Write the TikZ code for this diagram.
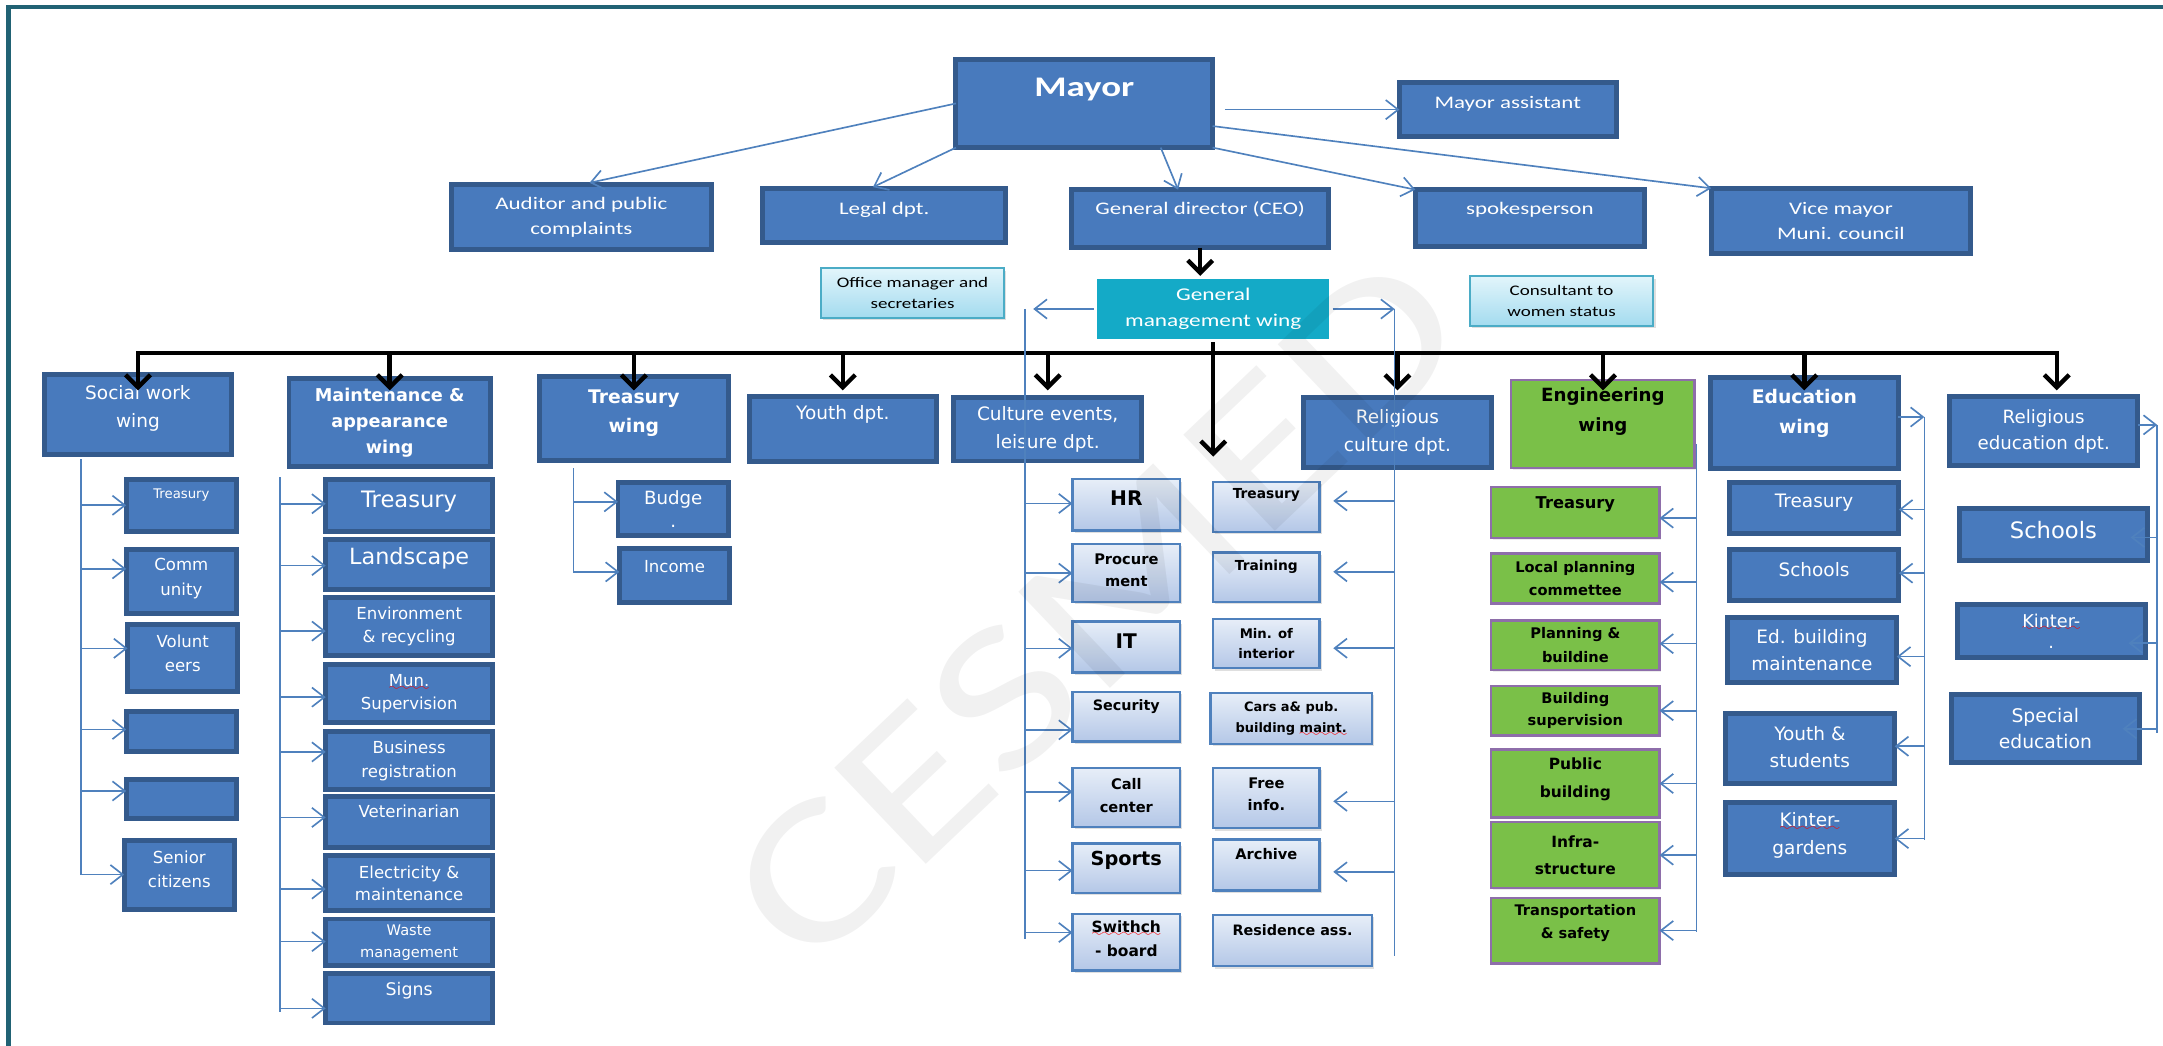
\documentclass[tikz,border=0pt]{standalone}
\usepackage{fontspec}
\setmainfont{DejaVu Sans}
\newfontfamily\calib[FakeStretch=1.3]{Carlito}
\usetikzlibrary{arrows.meta,shadows}

\definecolor{boxblue}{RGB}{72,122,189}
\definecolor{boxedge}{RGB}{52,90,140}
\definecolor{linkblue}{RGB}{79,129,189}
\definecolor{gmwteal}{RGB}{20,170,199}
\definecolor{cytop}{RGB}{226,245,251}
\definecolor{cybot}{RGB}{163,219,239}
\definecolor{cyedge}{RGB}{75,172,198}
\definecolor{lbtop}{RGB}{231,238,248}
\definecolor{lbbot}{RGB}{180,199,231}
\definecolor{engreen}{RGB}{122,192,72}
\definecolor{enpurple}{RGB}{142,110,170}
\definecolor{framecol}{RGB}{33,98,116}

% red spell-check wave under a word
\font\wavefnt=lasy6 at 4pt
\newcommand\sperr[2]{\setbox0\hbox{\textcolor{#1}{#2}}%
  \rlap{\textcolor{red}{\lower1.4pt\hbox to \wd0{\xleaders\hbox{\wavefnt\char58}\hfill}}}\box0}

\tikzset{
  box/.style={rectangle, align=center, inner sep=0pt, outer sep=0pt},
  dbox/.style={box, fill=boxblue, draw=boxedge, line width=1.8pt, text=white},
  lbox/.style={box, top color=lbtop, bottom color=lbbot, draw=linkblue, line width=0.8pt, text=black,
    drop shadow={opacity=0.25, shadow xshift=0.8pt, shadow yshift=-0.8pt}},
  cbox/.style={box, top color=cytop, bottom color=cybot, draw=cyedge, line width=0.8pt, text=black,
    drop shadow={opacity=0.25, shadow xshift=0.8pt, shadow yshift=-0.8pt}},
  gmwbox/.style={box, fill=gmwteal, draw=white, line width=2.5pt, text=white,
    drop shadow={opacity=0.2, shadow xshift=0.5pt, shadow yshift=-0.7pt}},
  gbox/.style={box, fill=engreen, draw=enpurple, line width=0.9pt, text=black,
    drop shadow={opacity=0.15, shadow xshift=0.6pt, shadow yshift=-0.6pt}},
  sz/.style 2 args={minimum width=(#1-3)*0.5pt, minimum height=(#2-3)*0.5pt},
  fs/.style 2 args={font=\fontsize{#1}{#2}\selectfont},
  fsb/.style 2 args={font=\fontsize{#1}{#2}\selectfont\bfseries},
  tfs/.style 2 args={font=\calib\fontsize{#1}{#2}\selectfont},
  tup/.style={text depth=#1pt},
  conn/.style={draw=linkblue, line width=0.6pt, -{Straight Barb[length=4.5pt,width=7pt]}},
  vline/.style={draw=linkblue, line width=0.6pt},
  blk/.style={line width=1.6pt, -{Straight Barb[length=4.5pt,width=9pt]}},
  frame/.style={draw=framecol, line width=1.7pt}
}

\begin{document}
\begin{tikzpicture}[x=0.5pt, y=-0.5pt]
\useasboundingbox (0,0) rectangle (1568,758);

% frame
\draw[frame] (6,758) -- (6,5) -- (1568,5);

% top level
\node[dbox, sz={189}{67}, font=\calib\fontsize{10.3}{12}\selectfont\bfseries, tup=12] (mayor) at (786,75) {Mayor};
\node[dbox, sz={160}{42}, tfs={6.4}{9}, tup=5.3] (assist) at (1093,79.5) {Mayor assistant};
\node[dbox, sz={192}{50}, tfs={6.4}{9}] (audit) at (421.5,157.3) {Auditor and public\\complaints};
\node[dbox, sz={179}{42}, tfs={6.4}{9}, tup=5.3] (legal) at (641,156) {Legal dpt.};
\node[dbox, sz={189}{45}, tfs={6.4}{9}, tup=7.6] (ceo) at (870,158.5) {General director (CEO)};
\node[dbox, sz={169}{44}, tfs={6.4}{9}, tup=7] (spokes) at (1109,158) {spokesperson};
\node[dbox, sz={191}{50}, tfs={6.4}{9}] (vice) at (1334.5,160) {Vice mayor\\Muni. council};
\node[cbox, sz={136}{39}, tfs={5.3}{7.5}] (office) at (661.5,212.5) {Office manager and\\secretaries};
\node[gmwbox, sz={176}{51}, tfs={6.5}{9.3}] (gmw) at (879.5,224) {General\\management wing};
\node[cbox, sz={136}{39}, tfs={5.3}{7.5}] (consult) at (1132,218.3) {Consultant to\\women status};

% wings
\node[dbox, sz={138}{61}, fs={6.7}{10}, tup=6] (social) at (100,300.5) {Social work\\wing};
\node[dbox, sz={149}{67}, fsb={6.4}{9.5}] (maint) at (282.5,306.5) {Maintenance \&\\appearance\\wing};
\node[dbox, sz={140}{64}, fsb={6.8}{10.5}, tup=5] (treaw) at (459.5,303.4) {Treasury\\wing};
\node[dbox, sz={139}{50}, fs={6.7}{10}, tup=11.8] (youth) at (611,311) {Youth dpt.};
\node[dbox, sz={139}{49}, fs={6.7}{10}] (culture) at (759.5,311.2) {Culture events,\\leisure dpt.};
\node[dbox, sz={139}{54}, fs={6.7}{10}] (relcult) at (1013,313.4) {Religious\\culture dpt.};
\node[gbox, sz={136}{67}, fsb={6.6}{10.8}, tup=10.6] (eng) at (1162,307.4) {Engineering\\wing};
\node[dbox, sz={139}{69}, fsb={6.8}{11}, tup=8.6] (edu) at (1308,306.6) {Education\\wing};
\node[dbox, sz={139}{53}, fs={6.6}{9.5}] (reledu) at (1481.5,312.7) {Religious\\education dpt.};

% social work wing
\node[dbox, sz={83}{41}, fs={4.8}{7}, tup=8.6] (sw1) at (131.5,366.3) {Treasury};
\node[dbox, sz={83}{49}, fs={6}{9}, tup=3.4] (sw2) at (131.5,421.4) {Comm\\unity};
\node[dbox, sz={83}{52}, fs={6}{8.8}, tup=3.6] (sw3) at (132.5,477) {Volunt\\eers};
\node[dbox, sz={83}{32}] (sw4) at (131.5,530.4) {};
\node[dbox, sz={83}{31}] (sw5) at (131.5,579.4) {};
\node[dbox, sz={83}{53}, fs={6}{8.8}, tup=4] (sw6) at (130,634) {Senior\\citizens};

% maintenance wing
\node[dbox, sz={124}{40.5}, fs={8.2}{10}, tup=4.4] (m1) at (296.6,366.2) {Treasury};
\node[dbox, sz={124}{39}, fs={8.1}{10}, tup=5.9] (m2) at (296.6,409) {Landscape};
\node[dbox, sz={124}{45}, fs={6}{8.3}] (m3) at (296.6,454.3) {Environment\\\& recycling};
\node[dbox, sz={124}{45}, fs={6}{8.5}] (m4) at (296.6,503) {\sperr{white}{Mun.}\\Supervision};
\node[dbox, sz={124}{45}, fs={6}{8.8}] (m5) at (296.6,551.5) {Business\\registration};
\node[dbox, sz={124}{40}, fs={6}{8}, tup=7.6] (m6) at (296.6,595.6) {Veterinarian};
\node[dbox, sz={124}{43}, fs={6}{8}] (m7) at (296.6,640.3) {Electricity \&\\maintenance};
\node[dbox, sz={124}{37}, fs={5.3}{7.8}] (m8) at (296.6,683.2) {Waste\\management};
\node[dbox, sz={124}{39}, fs={6.3}{8}, tup=7] (m9) at (296.6,723.6) {Signs};

% treasury wing
\node[dbox, sz={83}{41}, fs={6.6}{8.2}] (t1) at (488,369) {Budge\\.};
\node[dbox, sz={83}{42}, fs={6}{8}, tup=6.4] (t2) at (489,417) {Income};

% culture, left column
\node[lbox, sz={81}{40}, fsb={7.3}{9}, tup=5] (c1) at (816.5,366) {HR};
\node[lbox, sz={81}{45}, fsb={5.3}{8}, tup=2.5] (c2) at (816.5,415.5) {Procure\\ment};
\node[lbox, sz={81}{40}, fsb={7.3}{9}, tup=4] (c3) at (816.5,469) {IT};
\node[lbox, sz={81}{39}, fsb={5.2}{8}, tup=8.7] (c4) at (816.5,519.5) {Security};
\node[lbox, sz={81}{46}, fsb={5.3}{8.5}, tup=1.5] (c5) at (816.5,578) {Call\\center};
\node[lbox, sz={81}{39}, fsb={7}{9}, tup=7.1] (c6) at (816.5,629.5) {Sports};
\node[lbox, sz={81}{44}, fsb={5.6}{8.5}, tup=2.5] (c7) at (816.5,683) {\sperr{black}{Swithch}\\- board};

% culture, right column
\node[lbox, sz={80}{39}, fsb={5}{8}, tup=9.7] (r1) at (918,367.5) {Treasury};
\node[lbox, sz={80}{39}, fsb={5}{8}, tup=8.7] (r2) at (918,418.5) {Training};
\node[lbox, sz={80}{39}, fsb={4.8}{7.5}] (r3) at (918,466.5) {Min. of\\interior};
\node[lbox, sz={120}{40}, fsb={4.7}{7.6}] (r4) at (936,521) {Cars a\& pub.\\building \sperr{black}{maint.}};
\node[lbox, sz={80}{47}, fsb={5.3}{8}, tup=3] (r5) at (918,578.5) {Free\\info.};
\node[lbox, sz={80}{40}, fsb={5.3}{8}, tup=8] (r6) at (918,627) {Archive};
\node[lbox, sz={118}{40}, fsb={5.2}{8}, tup=8] (r7) at (937,682) {Residence ass.};

% engineering wing
\node[gbox, sz={125}{40}, fsb={5.9}{8}, tup=7.4] (e1) at (1142,371.4) {Treasury};
\node[gbox, sz={125}{39}, fsb={5.3}{8.1}] (e2) at (1142,419.4) {Local planning\\commettee};
\node[gbox, sz={125}{39}, fsb={5.3}{8.7}] (e3) at (1142,467.8) {Planning \&\\buildine};
\node[gbox, sz={125}{39}, fsb={5.3}{8.1}] (e4) at (1142,515.2) {Building\\supervision};
\node[gbox, sz={125}{52.5}, fsb={5.6}{9.9}, tup=4.3] (e5) at (1142,568) {Public\\building};
\node[gbox, sz={125}{51}, fsb={5.6}{9.7}] (e6) at (1142,619.9) {Infra-\\structure};
\node[gbox, sz={125}{50.5}, fsb={5.3}{8.6}, tup=6.7] (e7) at (1142,674.6) {Transportation\\\& safety};

% education wing
\node[dbox, sz={126}{40}, fs={6.7}{9.9}, tup=5] (d1) at (1315,368.2) {Treasury};
\node[dbox, sz={126}{40}, fs={6.7}{9.9}, tup=4] (d2) at (1315,416.7) {Schools};
\node[dbox, sz={126}{50}, fs={6.7}{9.9}] (d3) at (1313.5,471.4) {Ed. building\\maintenance};
\node[dbox, sz={126}{53.6}, fs={6.7}{9.8}, tup=1.6] (d4) at (1312,542.8) {Youth \&\\students};
\node[dbox, sz={126}{55}, fs={6.7}{9.9}, tup=3.6] (d5) at (1312,607.9) {\sperr{white}{Kinter-}\\gardens};

% religious education
\node[dbox, sz={139}{41}, fs={8.2}{10}, tup=3] (q1) at (1488.5,387.4) {Schools};
\node[dbox, sz={139}{41}, fs={6.4}{7.6}] (q2) at (1487,457.3) {\sperr{white}{Kinter-}\\.};
\node[dbox, sz={139}{52}, fs={6.8}{9.5}] (q3) at (1482.7,528.3) {Special\\education};

% helper points
\coordinate (bus) at (0,256);
\coordinate (tipy) at (0,283);
\coordinate (busR) at (1491,256);
\coordinate (midtip) at (0,331);
\coordinate (lft) at (743,224);
\coordinate (lftb) at (743,681);
\coordinate (rgt) at (1011,224);
\coordinate (rgtb) at (1011,693);
\coordinate (swt) at (58.5,333);
\coordinate (swb) at (58.5,634);
\coordinate (mnt) at (202.8,346);
\coordinate (mnb) at (202.8,733.3);
\coordinate (trt) at (415.8,339.5);
\coordinate (trb) at (415.8,415.5);
\coordinate (ent) at (1229.8,321.7);
\coordinate (enb) at (1229.8,675.4);
\coordinate (edt) at (1395,302.3);
\coordinate (edb) at (1395,608.8);
\coordinate (rqt) at (1563.8,308);
\coordinate (rqb) at (1563.8,531.6);

% mayor links
\draw[conn, shorten >=3pt] (mayor.west) -- (audit.north);
\draw[conn, shorten >=1pt] (mayor.south west) -- ([xshift=-5pt]legal.north);
\draw[conn] (mayor.-30) -- ([xshift=-8pt]ceo.north);
\draw[conn] (mayor.south east) -- (spokes.north west);
\draw[conn] (mayor.-10) -- (vice.north west);
\draw[conn, shorten <=4.5pt] (mayor.east |- assist.west) -- (assist.west);

% black tree
\draw[blk] (ceo.south) -- (ceo.south |- gmw.north);
\draw[blk, -, line cap=rect] (bus -| social) -- (busR);
\foreach \n in {social,maint,treaw,youth,culture,relcult,eng,edu}
  \draw[blk] (bus -| \n) -- (tipy -| \n);
\draw[blk] (busR) -- (busR |- tipy);
\draw[blk] (gmw.south) -- (gmw.south |- midtip);

% general management wing
\draw[conn, shorten >=3pt] (gmw.west) -- (lft);
\draw[vline] (lft) -- (lftb);
\foreach \n/\dy in {c1/0.5,c2/0,c3/-0.5,c4/-4.8,c5/2,c6/-0.8,c7/3.5}
  \draw[conn] ([yshift=\dy pt]\n.west -| lft) -- ([yshift=\dy pt]\n.west);
\draw[conn] (gmw.east) -- (rgt);
\draw[vline] (rgt) -- (rgtb);
\foreach \n/\dy in {r1/2.2,r2/2,r3/-1.7,r5/-1.2,r6/-2.5}
  \draw[conn, shorten >=5pt] ([yshift=\dy pt]\n.east -| rgt) -- ([yshift=\dy pt]\n.east);

% wing branches
\draw[vline] (swt) -- (swb);
\foreach \n/\dy in {sw1/0,sw2/4.5,sw3/3.5,sw4/0.8,sw5/3,sw6/0}
  \draw[conn] ([yshift=\dy pt]\n.west -| swt) -- ([yshift=\dy pt]\n.west);
\draw[vline] (mnt) -- (mnb);
\foreach \n/\dy in {m1/0.5,m2/-0.5,m3/-1.6,m4/-1.2,m5/3.2,m6/1.5,m7/-2.1,m8/0.3,m9/-3.7}
  \draw[conn] ([yshift=\dy pt]\n.west -| mnt) -- ([yshift=\dy pt]\n.west);
\draw[vline] (trt) -- (trb);
\foreach \n/\dy in {t1/2.6,t2/1.2}
  \draw[conn] ([yshift=\dy pt]\n.west -| trt) -- ([yshift=\dy pt]\n.west);
\draw[vline] (ent) -- (enb);
\foreach \n/\dy in {e1/-2.1,e2/-1.3,e3/0.6,e4/0,e5/0,e6/0,e7/0}
  \draw[conn] ([yshift=\dy pt]\n.east -| ent) -- ([yshift=\dy pt]\n.east);
\draw[conn] (edu.east |- edt) -- (edt);
\draw[vline] (edt) -- (edb);
\foreach \n/\dy in {d1/-0.6,d2/0.6,d3/-2.3,d4/0.9,d5/0}
  \draw[conn] ([yshift=\dy pt]\n.east -| edt) -- ([yshift=\dy pt]\n.east);
\draw[conn] (reledu.east |- rqt) -- (rqt);
\draw[vline] (rqt) -- (rqb);
\foreach \n/\dy in {q1/-1.1,q2/-4.5,q3/0}
  \draw[conn, shorten >=-6pt] ([yshift=\dy pt]\n.east -| rqt) -- ([yshift=\dy pt]\n.east);

% watermark
\node[text opacity=0.055, font=\calib\fontsize{75}{75}\selectfont, rotate=43.6] (wmark) at (795,442) {CESMED};
\end{tikzpicture}
\end{document}
